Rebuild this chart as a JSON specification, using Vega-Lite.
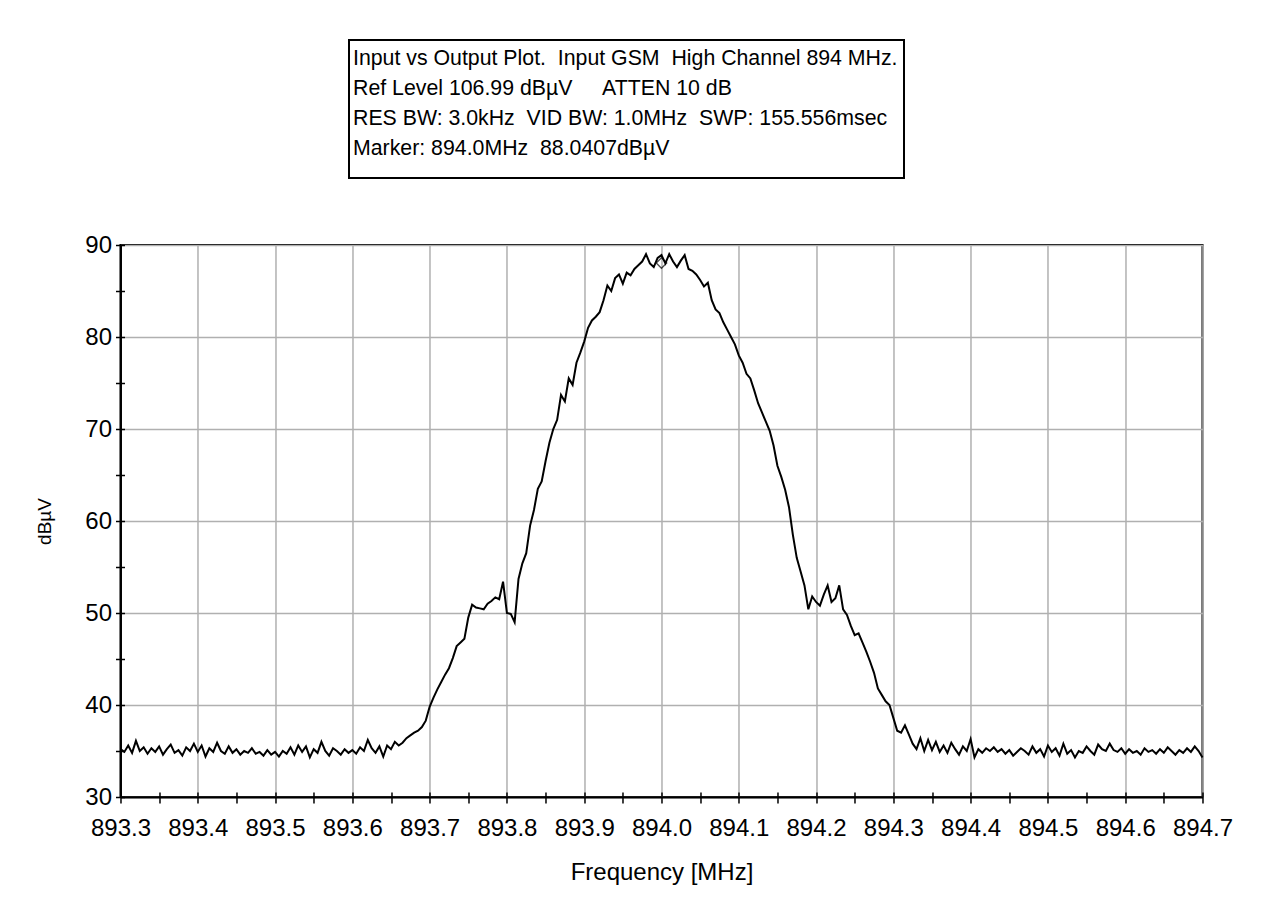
{
  "$schema": "https://vega.github.io/schema/vega-lite/v6.json",
  "background": "white",
  "padding": {"left": 34, "top": 39, "right": 0, "bottom": 0},
  "config": {"font": "Liberation Sans", "axis": {"labelColor": "black", "titleColor": "black"}},
  "spacing": 53,
  "center": true,
  "vconcat": [
    {
      "width": 555,
      "height": 138,
      "view": {"stroke": "black", "strokeWidth": 2},
      "title": {"text": "\u00a0", "orient": "right", "offset": 90, "fontSize": 10},
      "data": {"values": [
        {"line": 1, "text": "Input vs Output Plot.\u00a0\u00a0Input GSM\u00a0\u00a0High Channel 894 MHz."},
        {"line": 2, "text": "Ref Level 106.99 dBµV\u00a0\u00a0\u00a0\u00a0\u00a0ATTEN 10 dB"},
        {"line": 3, "text": "RES BW: 3.0kHz\u00a0\u00a0VID BW: 1.0MHz\u00a0\u00a0SWP: 155.556msec"},
        {"line": 4, "text": "Marker: 894.0MHz\u00a0\u00a088.0407dBµV"}
      ]},
      "mark": {"type": "text", "align": "left", "baseline": "middle", "dx": 4, "fontSize": 21.3, "color": "black"},
      "encoding": {
        "x": {"value": 0},
        "y": {"field": "line", "type": "ordinal", "scale": {"type": "point", "padding": 0.8, "align": 0.4}, "axis": null},
        "text": {"field": "text"}
      }
    },
    {
      "width": 1082,
      "height": 552,
      "view": {"stroke": "black", "strokeWidth": 2},
      "layer": [
        {
          "data": {"values": [
            {"f": 893.300, "v": 35.2}, {"f": 893.305, "v": 34.9}, {"f": 893.310, "v": 35.6}, {"f": 893.315, "v": 34.8},
            {"f": 893.320, "v": 36.1}, {"f": 893.325, "v": 35.0}, {"f": 893.330, "v": 35.4}, {"f": 893.335, "v": 34.7},
            {"f": 893.340, "v": 35.3}, {"f": 893.345, "v": 34.9}, {"f": 893.350, "v": 35.5}, {"f": 893.355, "v": 34.6},
            {"f": 893.360, "v": 35.2}, {"f": 893.365, "v": 35.7}, {"f": 893.370, "v": 34.8}, {"f": 893.375, "v": 35.1},
            {"f": 893.380, "v": 34.5}, {"f": 893.385, "v": 35.4}, {"f": 893.390, "v": 35.0}, {"f": 893.395, "v": 35.8},
            {"f": 893.400, "v": 34.9}, {"f": 893.405, "v": 35.6}, {"f": 893.410, "v": 34.4}, {"f": 893.415, "v": 35.3},
            {"f": 893.420, "v": 34.9}, {"f": 893.425, "v": 35.9}, {"f": 893.430, "v": 35.0}, {"f": 893.435, "v": 34.7},
            {"f": 893.440, "v": 35.5}, {"f": 893.445, "v": 34.8}, {"f": 893.450, "v": 35.2}, {"f": 893.455, "v": 34.6},
            {"f": 893.460, "v": 35.0}, {"f": 893.465, "v": 34.8}, {"f": 893.470, "v": 35.3}, {"f": 893.475, "v": 34.7},
            {"f": 893.480, "v": 34.9}, {"f": 893.485, "v": 34.5}, {"f": 893.490, "v": 35.1}, {"f": 893.495, "v": 34.6},
            {"f": 893.500, "v": 34.9}, {"f": 893.505, "v": 34.4}, {"f": 893.510, "v": 35.0}, {"f": 893.515, "v": 34.7},
            {"f": 893.520, "v": 35.4}, {"f": 893.525, "v": 34.6}, {"f": 893.530, "v": 35.6}, {"f": 893.535, "v": 34.9},
            {"f": 893.540, "v": 35.5}, {"f": 893.545, "v": 34.3}, {"f": 893.550, "v": 35.2}, {"f": 893.555, "v": 34.8},
            {"f": 893.560, "v": 36.0}, {"f": 893.565, "v": 35.0}, {"f": 893.570, "v": 34.5}, {"f": 893.575, "v": 35.3},
            {"f": 893.580, "v": 35.0}, {"f": 893.585, "v": 34.6}, {"f": 893.590, "v": 35.2}, {"f": 893.595, "v": 34.8},
            {"f": 893.600, "v": 35.1}, {"f": 893.605, "v": 34.7}, {"f": 893.610, "v": 35.4}, {"f": 893.615, "v": 35.0},
            {"f": 893.620, "v": 36.2}, {"f": 893.625, "v": 35.3}, {"f": 893.630, "v": 34.8}, {"f": 893.635, "v": 35.5},
            {"f": 893.640, "v": 34.4}, {"f": 893.645, "v": 35.6}, {"f": 893.650, "v": 35.2}, {"f": 893.655, "v": 36.0},
            {"f": 893.660, "v": 35.6}, {"f": 893.665, "v": 35.9}, {"f": 893.670, "v": 36.4}, {"f": 893.675, "v": 36.7},
            {"f": 893.680, "v": 37.0}, {"f": 893.685, "v": 37.2}, {"f": 893.690, "v": 37.6}, {"f": 893.695, "v": 38.3},
            {"f": 893.700, "v": 39.8}, {"f": 893.705, "v": 40.8}, {"f": 893.710, "v": 41.7}, {"f": 893.715, "v": 42.5},
            {"f": 893.720, "v": 43.3}, {"f": 893.725, "v": 44.0}, {"f": 893.730, "v": 45.1}, {"f": 893.735, "v": 46.4},
            {"f": 893.740, "v": 46.8}, {"f": 893.745, "v": 47.2}, {"f": 893.750, "v": 49.5}, {"f": 893.755, "v": 50.9},
            {"f": 893.760, "v": 50.6}, {"f": 893.765, "v": 50.5}, {"f": 893.770, "v": 50.4}, {"f": 893.775, "v": 51.0},
            {"f": 893.780, "v": 51.3}, {"f": 893.785, "v": 51.7}, {"f": 893.790, "v": 51.5}, {"f": 893.795, "v": 53.4},
            {"f": 893.800, "v": 50.0}, {"f": 893.805, "v": 49.9}, {"f": 893.810, "v": 49.0}, {"f": 893.815, "v": 53.7},
            {"f": 893.820, "v": 55.4}, {"f": 893.825, "v": 56.5}, {"f": 893.830, "v": 59.5}, {"f": 893.835, "v": 61.2},
            {"f": 893.840, "v": 63.5}, {"f": 893.845, "v": 64.3}, {"f": 893.850, "v": 66.5}, {"f": 893.855, "v": 68.5},
            {"f": 893.860, "v": 70.0}, {"f": 893.865, "v": 71.0}, {"f": 893.870, "v": 73.7}, {"f": 893.875, "v": 73.0},
            {"f": 893.880, "v": 75.5}, {"f": 893.885, "v": 74.8}, {"f": 893.890, "v": 77.2}, {"f": 893.895, "v": 78.3},
            {"f": 893.900, "v": 79.5}, {"f": 893.905, "v": 81.0}, {"f": 893.910, "v": 81.8}, {"f": 893.915, "v": 82.2},
            {"f": 893.920, "v": 82.7}, {"f": 893.925, "v": 84.0}, {"f": 893.930, "v": 85.6}, {"f": 893.935, "v": 85.0},
            {"f": 893.940, "v": 86.4}, {"f": 893.945, "v": 86.8}, {"f": 893.950, "v": 85.8}, {"f": 893.955, "v": 87.0},
            {"f": 893.960, "v": 86.7}, {"f": 893.965, "v": 87.4}, {"f": 893.970, "v": 87.8}, {"f": 893.975, "v": 88.2},
            {"f": 893.980, "v": 89.0}, {"f": 893.985, "v": 88.0}, {"f": 893.990, "v": 87.6}, {"f": 893.995, "v": 88.6},
            {"f": 894.000, "v": 88.9}, {"f": 894.005, "v": 88.0}, {"f": 894.010, "v": 89.0}, {"f": 894.015, "v": 88.2},
            {"f": 894.020, "v": 87.6}, {"f": 894.025, "v": 88.3}, {"f": 894.030, "v": 88.9}, {"f": 894.035, "v": 87.4},
            {"f": 894.040, "v": 87.2}, {"f": 894.045, "v": 86.8}, {"f": 894.050, "v": 86.2}, {"f": 894.055, "v": 85.5},
            {"f": 894.060, "v": 85.9}, {"f": 894.065, "v": 84.0}, {"f": 894.070, "v": 83.0}, {"f": 894.075, "v": 82.6},
            {"f": 894.080, "v": 81.6}, {"f": 894.085, "v": 80.8}, {"f": 894.090, "v": 80.0}, {"f": 894.095, "v": 79.2},
            {"f": 894.100, "v": 78.0}, {"f": 894.105, "v": 77.2}, {"f": 894.110, "v": 76.0}, {"f": 894.115, "v": 75.5},
            {"f": 894.120, "v": 74.2}, {"f": 894.125, "v": 72.8}, {"f": 894.130, "v": 71.8}, {"f": 894.135, "v": 70.8},
            {"f": 894.140, "v": 69.8}, {"f": 894.145, "v": 68.2}, {"f": 894.150, "v": 66.0}, {"f": 894.155, "v": 64.8},
            {"f": 894.160, "v": 63.4}, {"f": 894.165, "v": 61.5}, {"f": 894.170, "v": 58.5}, {"f": 894.175, "v": 56.0},
            {"f": 894.180, "v": 54.5}, {"f": 894.185, "v": 53.0}, {"f": 894.190, "v": 50.4}, {"f": 894.195, "v": 51.8},
            {"f": 894.200, "v": 51.2}, {"f": 894.205, "v": 50.8}, {"f": 894.210, "v": 52.0}, {"f": 894.215, "v": 53.0},
            {"f": 894.220, "v": 51.2}, {"f": 894.225, "v": 51.6}, {"f": 894.230, "v": 53.0}, {"f": 894.235, "v": 50.4},
            {"f": 894.240, "v": 49.8}, {"f": 894.245, "v": 48.6}, {"f": 894.250, "v": 47.6}, {"f": 894.255, "v": 47.8},
            {"f": 894.260, "v": 46.8}, {"f": 894.265, "v": 45.8}, {"f": 894.270, "v": 44.7}, {"f": 894.275, "v": 43.5},
            {"f": 894.280, "v": 41.8}, {"f": 894.285, "v": 41.1}, {"f": 894.290, "v": 40.4}, {"f": 894.295, "v": 40.0},
            {"f": 894.300, "v": 38.6}, {"f": 894.305, "v": 37.2}, {"f": 894.310, "v": 37.0}, {"f": 894.315, "v": 37.8},
            {"f": 894.320, "v": 36.8}, {"f": 894.325, "v": 35.8}, {"f": 894.330, "v": 35.2}, {"f": 894.335, "v": 36.4},
            {"f": 894.340, "v": 35.0}, {"f": 894.345, "v": 36.2}, {"f": 894.350, "v": 35.1}, {"f": 894.355, "v": 36.0},
            {"f": 894.360, "v": 34.9}, {"f": 894.365, "v": 35.6}, {"f": 894.370, "v": 34.8}, {"f": 894.375, "v": 35.9},
            {"f": 894.380, "v": 35.2}, {"f": 894.385, "v": 34.6}, {"f": 894.390, "v": 35.5}, {"f": 894.395, "v": 35.0},
            {"f": 894.400, "v": 36.3}, {"f": 894.405, "v": 34.3}, {"f": 894.410, "v": 35.2}, {"f": 894.415, "v": 34.8},
            {"f": 894.420, "v": 35.3}, {"f": 894.425, "v": 35.0}, {"f": 894.430, "v": 35.4}, {"f": 894.435, "v": 34.9},
            {"f": 894.440, "v": 35.2}, {"f": 894.445, "v": 34.7}, {"f": 894.450, "v": 35.1}, {"f": 894.455, "v": 34.5},
            {"f": 894.460, "v": 34.9}, {"f": 894.465, "v": 35.3}, {"f": 894.470, "v": 35.0}, {"f": 894.475, "v": 34.6},
            {"f": 894.480, "v": 35.5}, {"f": 894.485, "v": 34.8}, {"f": 894.490, "v": 35.2}, {"f": 894.495, "v": 34.4},
            {"f": 894.500, "v": 35.6}, {"f": 894.505, "v": 34.9}, {"f": 894.510, "v": 35.3}, {"f": 894.515, "v": 34.5},
            {"f": 894.520, "v": 35.8}, {"f": 894.525, "v": 34.7}, {"f": 894.530, "v": 35.1}, {"f": 894.535, "v": 34.3},
            {"f": 894.540, "v": 35.0}, {"f": 894.545, "v": 34.8}, {"f": 894.550, "v": 35.5}, {"f": 894.555, "v": 35.0},
            {"f": 894.560, "v": 34.6}, {"f": 894.565, "v": 35.7}, {"f": 894.570, "v": 35.2}, {"f": 894.575, "v": 35.0},
            {"f": 894.580, "v": 35.8}, {"f": 894.585, "v": 35.1}, {"f": 894.590, "v": 34.9}, {"f": 894.595, "v": 35.3},
            {"f": 894.600, "v": 34.7}, {"f": 894.605, "v": 35.2}, {"f": 894.610, "v": 34.8}, {"f": 894.615, "v": 35.0},
            {"f": 894.620, "v": 34.6}, {"f": 894.625, "v": 35.3}, {"f": 894.630, "v": 34.9}, {"f": 894.635, "v": 35.1},
            {"f": 894.640, "v": 34.7}, {"f": 894.645, "v": 35.2}, {"f": 894.650, "v": 34.8}, {"f": 894.655, "v": 35.4},
            {"f": 894.660, "v": 35.0}, {"f": 894.665, "v": 34.6}, {"f": 894.670, "v": 35.1}, {"f": 894.675, "v": 34.8},
            {"f": 894.680, "v": 35.3}, {"f": 894.685, "v": 34.9}, {"f": 894.690, "v": 35.5}, {"f": 894.695, "v": 35.0},
            {"f": 894.700, "v": 34.3}
          ]},
          "mark": {"type": "line", "color": "black", "strokeWidth": 2},
          "encoding": {
            "x": {
              "field": "f", "type": "quantitative",
              "scale": {"domain": [893.3, 894.7], "nice": false, "zero": false},
              "axis": {
                "values": [893.3, 893.35, 893.4, 893.45, 893.5, 893.55, 893.6, 893.65, 893.7, 893.75, 893.8, 893.85, 893.9, 893.95, 894.0, 894.05, 894.1, 894.15, 894.2, 894.25, 894.3, 894.35, 894.4, 894.45, 894.5, 894.55, 894.6, 894.65, 894.7],
                "labelExpr": "round(datum.value*20) % 2 === 0 ? format(datum.value, '.1f') : ''",
                "labelOverlap": false, "labelFlush": false,
                "labelFontSize": 24, "labelPadding": 13,
                "tickColor": "black", "tickSize": 6, "tickWidth": 1.5,
                "domainColor": "black", "domainWidth": 2,
                "gridColor": "#b0b0b0", "gridWidth": 1.5,
                "gridOpacity": {"condition": {"test": "round(datum.value*20) % 2 === 0", "value": 1}, "value": 0},
                "title": "Frequency [MHz]", "titleFontSize": 24, "titleFontWeight": "normal", "titlePadding": 20
              }
            },
            "y": {
              "field": "v", "type": "quantitative",
              "scale": {"domain": [30, 90], "nice": false, "zero": false},
              "axis": {
                "values": [30, 35, 40, 45, 50, 55, 60, 65, 70, 75, 80, 85, 90],
                "labelExpr": "datum.value % 10 === 0 ? datum.value : ''",
                "labelOverlap": false, "labelFlush": false,
                "labelFontSize": 24, "labelPadding": 4,
                "tickColor": "black", "tickSize": 5, "tickWidth": 1.5,
                "domainColor": "black", "domainWidth": 2,
                "gridColor": "#b0b0b0", "gridWidth": 1.5,
                "gridOpacity": {"condition": {"test": "datum.value % 10 === 0", "value": 1}, "value": 0},
                "title": "dBµV", "titleFontSize": 19, "titleFontWeight": "normal", "titlePadding": 30
              }
            }
          }
        },
        {
          "data": {"values": [{"f": 894.0, "v": 88.04}]},
          "mark": {"type": "point", "shape": "diamond", "filled": false, "color": "black", "size": 110, "strokeWidth": 1.3},
          "encoding": {
            "x": {
              "field": "f", "type": "quantitative",
              "axis": {
                "orient": "bottom",
                "values": [893.3, 893.35, 893.4, 893.45, 893.5, 893.55, 893.6, 893.65, 893.7, 893.75, 893.8, 893.85, 893.9, 893.95, 894.0, 894.05, 894.1, 894.15, 894.2, 894.25, 894.3, 894.35, 894.4, 894.45, 894.5, 894.55, 894.6, 894.65, 894.7],
                "labels": false, "domain": false, "grid": false, "title": null,
                "tickColor": "black", "tickSize": -5, "tickWidth": 1.5
              }
            },
            "y": {
              "field": "v", "type": "quantitative",
              "axis": {
                "orient": "left",
                "values": [30, 35, 40, 45, 50, 55, 60, 65, 70, 75, 80, 85, 90],
                "labels": false, "domain": false, "grid": false, "title": null,
                "tickColor": "black", "tickSize": -4, "tickWidth": 1.5
              }
            }
          }
        }
      ],
      "resolve": {"axis": {"x": "independent", "y": "independent"}}
    }
  ]
}
